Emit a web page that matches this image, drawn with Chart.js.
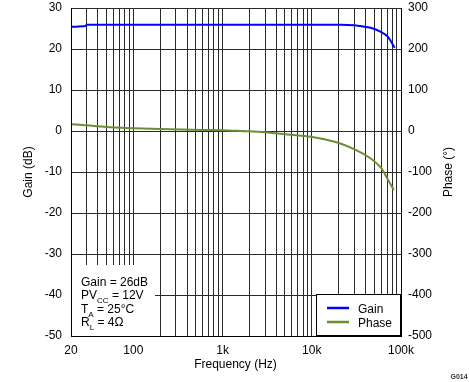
<!DOCTYPE html>
<html>
<head>
<meta charset="utf-8">
<script src="https://cdn.jsdelivr.net/npm/chart.js@4/dist/chart.umd.min.js"></script>
<style>
html,body{margin:0;padding:0;background:#fff;}
#wrap{width:469px;height:382px;}
</style>
</head>
<body>
<div id="wrap"><canvas id="c" width="469" height="382"></canvas></div>
<script>
// ---- data ----
const gainFreq = [20, 29, 30, 100, 1000, 10000, 21000, 29500, 35000, 45800, 59500, 71000, 85000];
const gainDb   = [25.4, 25.6, 25.9, 25.9, 25.9, 25.9, 25.9, 25.8, 25.6, 25.2, 24.2, 23.0, 20.3];

const phaseFreq = [20, 25, 30, 40, 55, 80, 200, 600, 1000, 1600, 3000, 5770, 9690, 18500, 31000, 45800, 59700, 70000, 83000];
const phaseDeg  = [16.5, 15, 14, 11.6, 9, 7.6, 5, 2.7, 2, 0, -3, -9, -14, -27, -46, -67, -90, -115, -144];

const xGridValues = [20,30,40,50,60,70,80,90,100,200,300,400,500,600,700,800,900,
  1000,2000,3000,4000,5000,6000,7000,8000,9000,10000,20000,30000,40000,50000,60000,70000,80000,90000,100000];
const xLabelValues = [20, 100, 1000, 10000, 100000];
const xLabelTexts  = ['20', '100', '1k', '10k', '100k'];

const gainTicks  = [-50, -40, -30, -20, -10, 0, 10, 20, 30];
const phaseTicks = [-500, -400, -300, -200, -100, 0, 100, 200, 300];

const seriesNames = ['Gain', 'Phase'];
const seriesColors = ['#0000ff', '#6b8e35'];
const noteLines = [
  [['Gain = 26dB', false]],
  [['PV', false], ['CC', true], [' = 12V', false]],
  [['T', false], ['A', true], [' = 25°C', false]],
  [['R', false], ['L', true], [' = 4Ω', false]]
];

const FONT = '"Liberation Sans", Arial, sans-serif';
const gridColor = '#2a2a2a';

function zeroPad(s) { s.paddingTop = 0; s.paddingBottom = 0; s.paddingLeft = 0; s.paddingRight = 0; }

const overlay = {
  id: 'overlay',
  afterDraw(chart) {
    const ctx = chart.ctx, a = chart.chartArea;
    ctx.save();
    // white annotation panel covering the grid
    const l = Math.round(a.left) + 1;
    ctx.fillStyle = '#fff';
    ctx.fillRect(l, 265, 155 - l, a.bottom - 265 + 1);
    ctx.restore();
    // restore the axis border lines the panel touched
    try { chart.scales.x.drawBorder(); chart.scales.y.drawBorder(); } catch (e) {}
    ctx.save();
    // annotation text
    ctx.fillStyle = '#000';
    ctx.textBaseline = 'alphabetic';
    ctx.textAlign = 'left';
    let base = 286;
    noteLines.forEach(parts => {
      let x = 81;
      parts.forEach(([t, sub]) => {
        ctx.font = (sub ? '8px ' : '12px ') + FONT;
        ctx.fillText(t, x, sub ? base + 4 : base);
        x += ctx.measureText(t).width;
      });
      base += 13.4;
    });
    // legend box
    const lx = 316.5, ly = 294.5, lw = 84, lh = 41;
    ctx.fillStyle = '#fff';
    ctx.fillRect(lx, ly, lw, lh);
    ctx.strokeStyle = '#000';
    ctx.lineWidth = 1;
    ctx.strokeRect(lx, ly, lw, lh);
    ctx.font = '12px ' + FONT;
    ctx.textBaseline = 'middle';
    seriesNames.forEach((n, i) => {
      const y = 308 + i * 14;
      ctx.strokeStyle = seriesColors[i];
      ctx.lineWidth = 2.5;
      ctx.beginPath();
      ctx.moveTo(327, y);
      ctx.lineTo(349, y);
      ctx.stroke();
      ctx.fillStyle = '#000';
      ctx.fillText(n, 358, y + 1.5);
    });
    // axis titles
    ctx.fillStyle = '#000';
    ctx.font = '12px ' + FONT;
    ctx.textAlign = 'center';
    ctx.textBaseline = 'middle';
    ctx.fillText('Frequency (Hz)', 235.5, 365);
    ctx.save();
    ctx.translate(29, 172);
    ctx.rotate(-Math.PI / 2);
    ctx.fillText('Gain (dB)', 0, 0);
    ctx.restore();
    ctx.save();
    ctx.translate(449, 172);
    ctx.rotate(-Math.PI / 2);
    ctx.fillText('Phase (°)', 0, 0);
    ctx.restore();
    ctx.font = 'bold 7px ' + FONT;
    ctx.fillStyle = '#333';
    ctx.fillText('G014', 459, 377);
    ctx.restore();
  }
};

const ctx = document.getElementById('c').getContext('2d');
new Chart(ctx, {
  type: 'line',
  data: {
    datasets: [
      {
        label: seriesNames[0],
        data: gainFreq.map((f, i) => ({x: f, y: gainDb[i]})),
        borderColor: seriesColors[0],
        borderWidth: 2,
        pointRadius: 0,
        tension: 0.3,
        yAxisID: 'y'
      },
      {
        label: seriesNames[1],
        data: phaseFreq.map((f, i) => ({x: f, y: phaseDeg[i]})),
        borderColor: seriesColors[1],
        borderWidth: 2,
        pointRadius: 0,
        tension: 0.3,
        yAxisID: 'y1'
      }
    ]
  },
  options: {
    responsive: false,
    animation: false,
    devicePixelRatio: 1,
    layout: {padding: {top: 8, left: 0, right: 0, bottom: 0}},
    plugins: {legend: {display: false}, tooltip: {enabled: false}},
    scales: {
      x: {
        type: 'logarithmic',
        min: 20, max: 100000,
        afterBuildTicks(s) { s.ticks = xGridValues.map(v => ({value: v})); },
        afterFit(s) { s.height = 46; zeroPad(s); },
        grid: {color: gridColor, lineWidth: 1, drawTicks: false},
        border: {display: true, color: '#000', width: 1},
        ticks: {
          autoSkip: false, maxRotation: 0, minRotation: 0, padding: 7,
          color: '#000', font: {family: FONT, size: 12},
          callback(v) {
            const k = xLabelValues.indexOf(Number(v));
            return k >= 0 ? xLabelTexts[k] : '';
          }
        }
      },
      y: {
        position: 'left',
        min: -50, max: 30,
        afterBuildTicks(s) { s.ticks = gainTicks.map(v => ({value: v})); },
        afterFit(s) { s.width = 71; zeroPad(s); },
        grid: {color: gridColor, lineWidth: 1, drawTicks: false},
        border: {display: true, color: '#000', width: 1},
        ticks: {padding: 9, color: '#000', font: {family: FONT, size: 12}}
      },
      y1: {
        position: 'right',
        min: -500, max: 300,
        afterBuildTicks(s) { s.ticks = phaseTicks.map(v => ({value: v})); },
        afterFit(s) { s.width = 68; zeroPad(s); },
        grid: {drawOnChartArea: false, drawTicks: false},
        border: {display: true, color: '#000', width: 1},
        ticks: {padding: 7, color: '#000', font: {family: FONT, size: 12}}
      }
    }
  },
  plugins: [overlay]
});
</script>
</body>
</html>
